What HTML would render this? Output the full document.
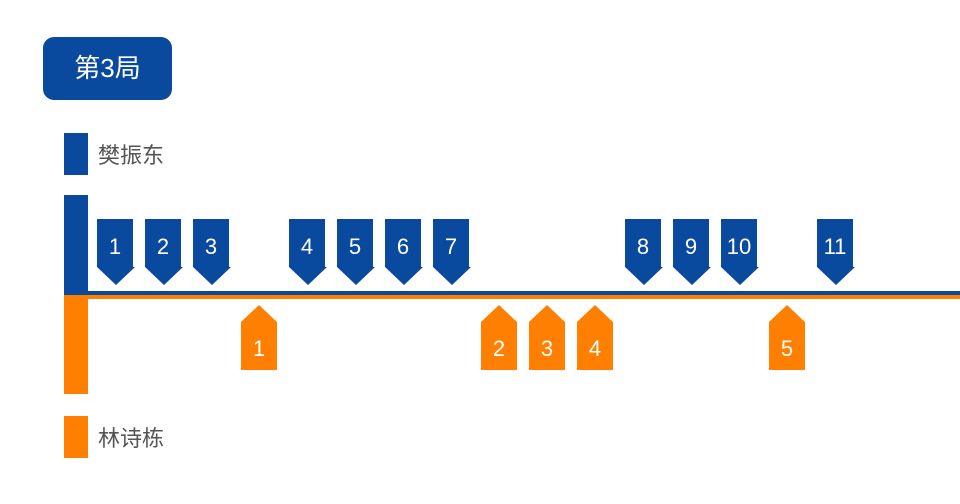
<!DOCTYPE html>
<html><head><meta charset="utf-8"><style>
body{margin:0;width:960px;height:504px;background:#fff;position:relative;overflow:hidden;font-family:"Liberation Sans","Noto Sans CJK SC",sans-serif}
.a{position:absolute}
.b{background:#0A4A9E}.o{background:#FF7F00}
</style></head><body>
<div class="a b" style="left:43px;top:37px;width:129px;height:63px;border-radius:11px;color:#fff;font-size:26px;line-height:63px;text-align:center">第3局</div>
<div class="a b" style="left:64px;top:133px;width:24px;height:42px"></div>
<div class="a" style="left:98px;top:141px;font-size:22px;color:#555;line-height:30px">樊振东</div>
<div class="a o" style="left:64px;top:416px;width:24px;height:42px"></div>
<div class="a" style="left:98px;top:424px;font-size:22px;color:#555;line-height:30px">林诗栋</div>
<div class="a b" style="left:64px;top:195px;width:24px;height:100px"></div>
<div class="a o" style="left:64px;top:295px;width:24px;height:99px"></div>
<div class="a b" style="left:88px;top:291px;width:872px;height:4px"></div>
<div class="a o" style="left:88px;top:295px;width:872px;height:4px"></div>
<svg class="a" style="left:0;top:0" width="960" height="504">
<g fill="#0A4A9E">
<polygon points="97,219 133,219 133,267 135,267 116,285 97,267" transform="translate(0,0)"/>
<polygon points="97,219 133,219 133,267 135,267 116,285 97,267" transform="translate(48,0)"/>
<polygon points="97,219 133,219 133,267 135,267 116,285 97,267" transform="translate(96,0)"/>
<polygon points="97,219 133,219 133,267 135,267 116,285 97,267" transform="translate(192,0)"/>
<polygon points="97,219 133,219 133,267 135,267 116,285 97,267" transform="translate(240,0)"/>
<polygon points="97,219 133,219 133,267 135,267 116,285 97,267" transform="translate(288,0)"/>
<polygon points="97,219 133,219 133,267 135,267 116,285 97,267" transform="translate(336,0)"/>
<polygon points="97,219 133,219 133,267 135,267 116,285 97,267" transform="translate(528,0)"/>
<polygon points="97,219 133,219 133,267 135,267 116,285 97,267" transform="translate(576,0)"/>
<polygon points="97,219 133,219 133,267 135,267 116,285 97,267" transform="translate(624,0)"/>
<polygon points="97,219 133,219 133,267 135,267 116,285 97,267" transform="translate(720,0)"/>
</g>
<g fill="#FF7F00">
<polygon points="241,322 259,305 277,322 277,370 241,370"/>
<polygon points="241,322 259,305 277,322 277,370 241,370" transform="translate(240,0)"/>
<polygon points="241,322 259,305 277,322 277,370 241,370" transform="translate(288,0)"/>
<polygon points="241,322 259,305 277,322 277,370 241,370" transform="translate(336,0)"/>
<polygon points="241,322 259,305 277,322 277,370 241,370" transform="translate(528,0)"/>
</g>
<g fill="#fff" font-family="Liberation Sans, sans-serif" font-size="22" text-anchor="middle">
<text x="115" y="254">1</text><text x="163" y="254">2</text><text x="211" y="254">3</text>
<text x="307" y="254">4</text><text x="355" y="254">5</text><text x="403" y="254">6</text><text x="451" y="254">7</text>
<text x="643" y="254">8</text><text x="691" y="254">9</text><text x="739" y="254">10</text><text x="835" y="254">11</text>
<text x="259" y="356">1</text><text x="499" y="356">2</text><text x="547" y="356">3</text><text x="595" y="356">4</text><text x="787" y="356">5</text>
</g>
</svg>
</body></html>
